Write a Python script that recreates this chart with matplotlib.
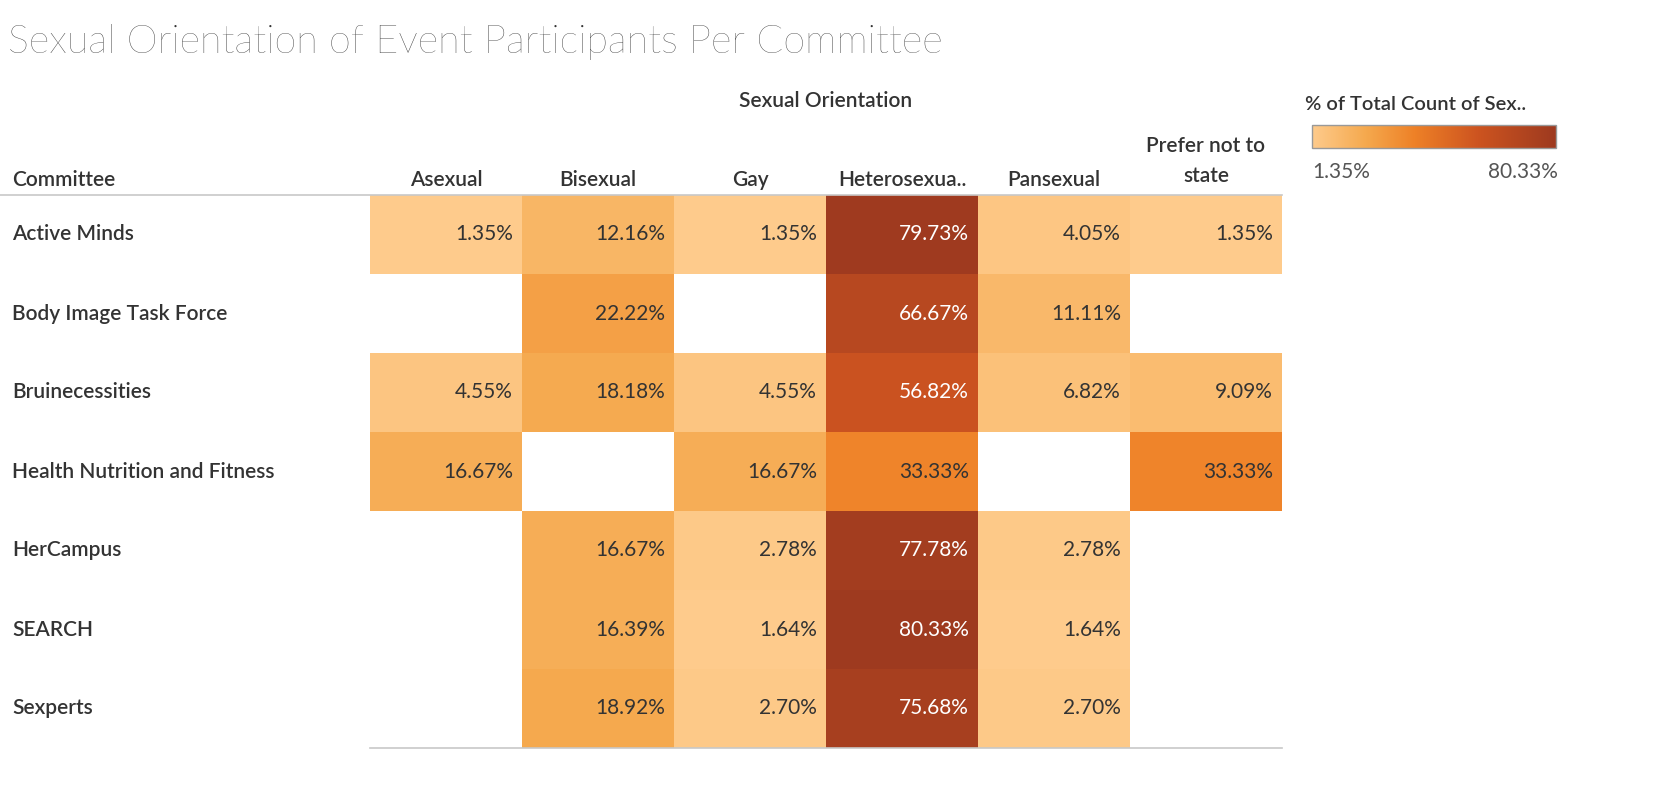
import matplotlib
matplotlib.use("Agg")
import matplotlib.pyplot as plt
from matplotlib.colors import LinearSegmentedColormap
from matplotlib.patches import Rectangle
import numpy as np

committees = ["Active Minds", "Body Image Task Force", "Bruinecessities",
              "Health Nutrition and Fitness", "HerCampus", "SEARCH", "Sexperts"]
orientations = ["Asexual", "Bisexual", "Gay", "Heterosexua..", "Pansexual", "Prefer not to\nstate"]
N = None
values = [
    [1.35, 12.16, 1.35, 79.73, 4.05, 1.35],
    [N, 22.22, N, 66.67, 11.11, N],
    [4.55, 18.18, 4.55, 56.82, 6.82, 9.09],
    [16.67, N, 16.67, 33.33, N, 33.33],
    [N, 16.67, 2.78, 77.78, 2.78, N],
    [N, 16.39, 1.64, 80.33, 1.64, N],
    [N, 18.92, 2.70, 75.68, 2.70, N],
]
vmin, vmax = 1.35, 80.33

cmap = LinearSegmentedColormap.from_list("tab_orange", [
    (0.0, "#FECB8C"), (0.22, "#F5A94E"), (0.42, "#EE8127"),
    (0.68, "#CD5420"), (1.0, "#9E3A1F")])

W, H = 1668, 796
fig = plt.figure(figsize=(W/100, H/100), dpi=100)
ax = fig.add_axes([0, 0, 1, 1])
ax.set_xlim(0, W); ax.set_ylim(H, 0); ax.axis("off")

fam = ["Lato", "DejaVu Sans"]
ax.text(8, 42, "Sexual Orientation of Event Participants Per Committee", fontsize=28.5,
        color="#333333", va="center", ha="left", family=fam, fontweight="light")

x0, cw = 370, 152
y0, rh = 195, 79
fs = 15
ax.text(x0 + 3*cw, 101, "Sexual Orientation", fontsize=fs, color="#333333",
        ha="center", va="center", family=fam, fontweight="semibold")
ax.text(12, 180, "Committee", fontsize=fs, color="#333333", ha="left", va="center",
        family=fam, fontweight="semibold")
for j, o in enumerate(orientations):
    ax.text(x0 + j*cw + cw/2, 180 if "\n" not in o else 161, o, fontsize=fs, color="#333333",
            ha="center", va="center", family=fam, fontweight="semibold", linespacing=1.6)
ax.plot([0, x0 + 6*cw], [y0, y0], color="#c8c8c8", lw=1.2)
ax.plot([x0, x0 + 6*cw], [y0 + 7*rh, y0 + 7*rh], color="#c8c8c8", lw=1.2)

for i, c in enumerate(committees):
    ax.text(12, y0 + i*rh + rh/2, c, fontsize=fs, color="#333333", ha="left",
            va="center", family=fam, fontweight="semibold")
    for j, v in enumerate(values[i]):
        if v is None:
            continue
        t = (v - vmin) / (vmax - vmin)
        ax.add_patch(Rectangle((x0 + j*cw, y0 + i*rh), cw, rh, color=cmap(t), lw=0))
        ax.text(x0 + (j+1)*cw - 9, y0 + i*rh + rh/2, f"{v:.2f}%", fontsize=fs,
                color="white" if v > 50 else "#333333", ha="right", va="center", family=fam)

# legend
ax.text(1305, 104, "% of Total Count of Sex..", fontsize=14.5, color="#333333",
        ha="left", va="center", family=fam, fontweight="semibold")
grad = np.linspace(0, 1, 256).reshape(1, -1)
ax.imshow(grad, cmap=cmap, extent=(1312, 1556, 148, 125), aspect="auto", zorder=2)
ax.add_patch(Rectangle((1312, 125), 244, 23, fill=False, ec="#999999", lw=1, zorder=3))
ax.set_xlim(0, W); ax.set_ylim(H, 0)
ax.text(1312, 172, "1.35%", fontsize=fs, color="#555555", ha="left", va="center", family=fam)
ax.text(1558, 172, "80.33%", fontsize=fs, color="#555555", ha="right", va="center", family=fam)

fig.savefig("out.png", dpi=100)
